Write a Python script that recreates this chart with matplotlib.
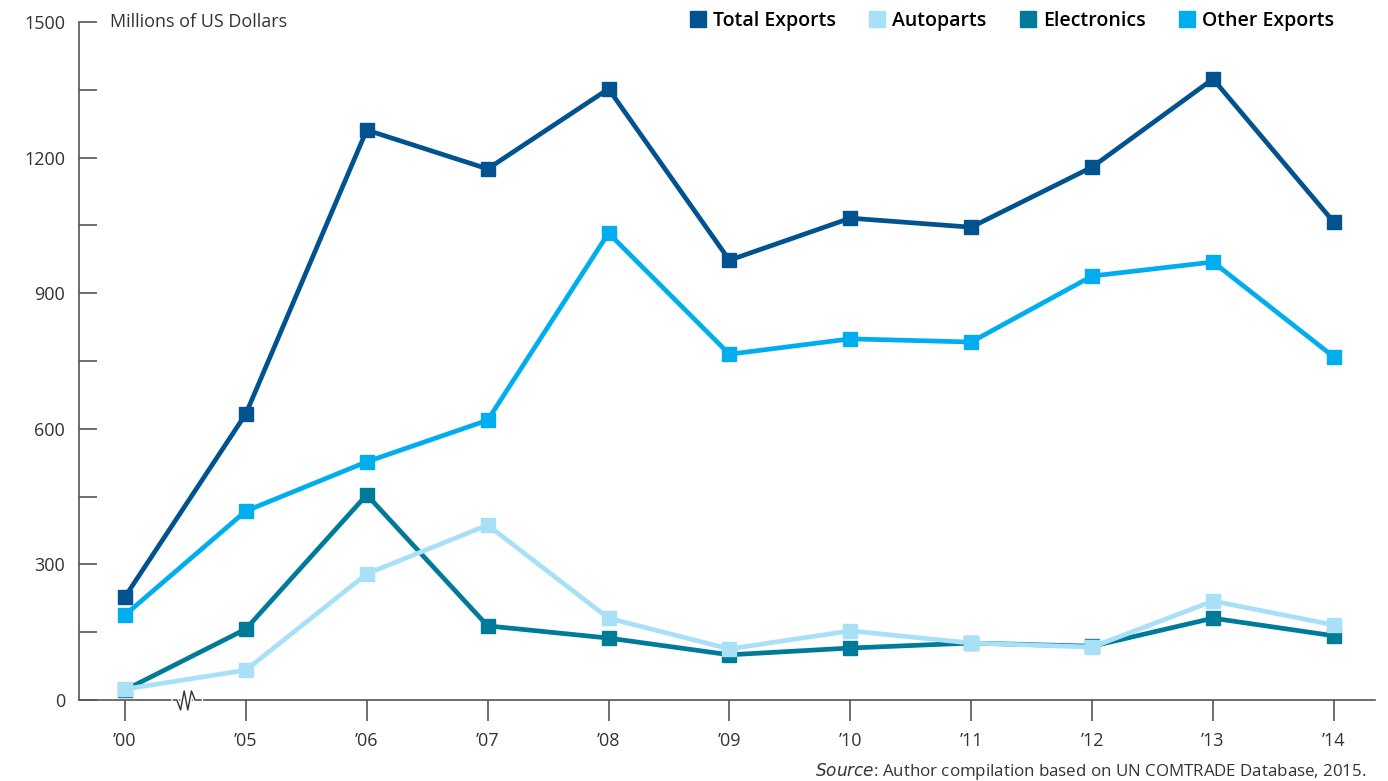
import matplotlib
matplotlib.use("Agg")
import matplotlib.pyplot as plt
from matplotlib.lines import Line2D
import numpy as np

plt.rcParams['font.family'] = ['Open Sans', 'DejaVu Sans']

years = ["\u201900", "\u201905", "\u201906", "\u201907", "\u201908", "\u201909",
         "\u201910", "\u201911", "\u201912", "\u201913", "\u201914"]
total_exports = [228, 633, 1261, 1175, 1352, 973, 1066, 1046, 1179, 1374, 1057]
autoparts = [24, 66, 279, 387, 181, 113, 153, 126, 117, 219, 166]
electronics = [22, 157, 454, 164, 137, 100, 115, 126, 119, 181, 142]
other_exports = [188, 418, 527, 619, 1033, 765, 799, 792, 938, 969, 759]

series = [
    ("Total Exports", total_exports, "#00538F"),
    ("Autoparts", autoparts, "#A8E0F8"),
    ("Electronics", electronics, "#007A99"),
    ("Other Exports", other_exports, "#00AEEF"),
]
draw_order = ["Other Exports", "Total Exports", "Electronics", "Autoparts"]

fig = plt.figure(figsize=(13.88, 7.81), dpi=100)
ax = fig.add_axes([79/1388, 1-700/781, (1375-79)/1388, (700-22)/781])

x = np.arange(len(years))
lookup = {n: (v, c) for n, v, c in series}
for i, name in enumerate(draw_order):
    v, c = lookup[name]
    ax.plot(x, v, color=c, lw=3.4, marker='s', markersize=10, zorder=3 + i)

ax.set_xlim(-0.38, 10.34)
ax.set_ylim(0, 1500)
for s in ['top', 'right']:
    ax.spines[s].set_visible(False)
for s in ['left', 'bottom']:
    ax.spines[s].set_color('#555555')
    ax.spines[s].set_linewidth(1.2)

ax.set_yticks([0, 300, 600, 900, 1200, 1500])
ax.set_yticks([150, 450, 750, 1050, 1350], minor=True)
ax.tick_params(axis='y', which='both', direction='in', length=13, width=1.2,
               color='#555555', labelsize=13, labelcolor='#333333', pad=10)
ax.set_xticks(x)
ax.set_xticklabels(years)
ax.tick_params(axis='x', direction='out', length=15, width=1.2, color='#555555',
               labelsize=13, labelcolor='#333333', pad=8)

# axis break zigzag
zx = np.array([0.40, 0.43, 0.46, 0.49, 0.52, 0.55, 0.58, 0.63])
zy = np.array([0, 0, -22, 20, -22, 20, 0, 0])
ax.plot(zx, zy, color='white', lw=3, clip_on=False, zorder=10)
ax.plot(zx, zy, color='#333333', lw=1, clip_on=False, zorder=11)

ax.text(110/1388, 1-22/781, "Millions of US Dollars", transform=fig.transFigure,
        fontsize=13, color='#333333', va='center', ha='left')

handles = [Line2D([], [], color=c, marker='s', linestyle='none', markersize=12)
           for n, v, c in series]
fig.legend(handles, [n for n, v, c in series], loc='center right',
           bbox_to_anchor=(1334/1388, 1-21/781), ncol=4, frameon=False,
           handlelength=0.8, handletextpad=0.35, columnspacing=1.75,
           borderpad=0, borderaxespad=0,
           prop={'weight': 'semibold', 'size': 14})

fig.text(1367/1388, 1-771/781, r"$\it{Source}$: Author compilation based on UN COMTRADE Database, 2015.",
         fontsize=12.2, color='#333333', ha='right', va='center')

fig.savefig("out.png", dpi=100)
